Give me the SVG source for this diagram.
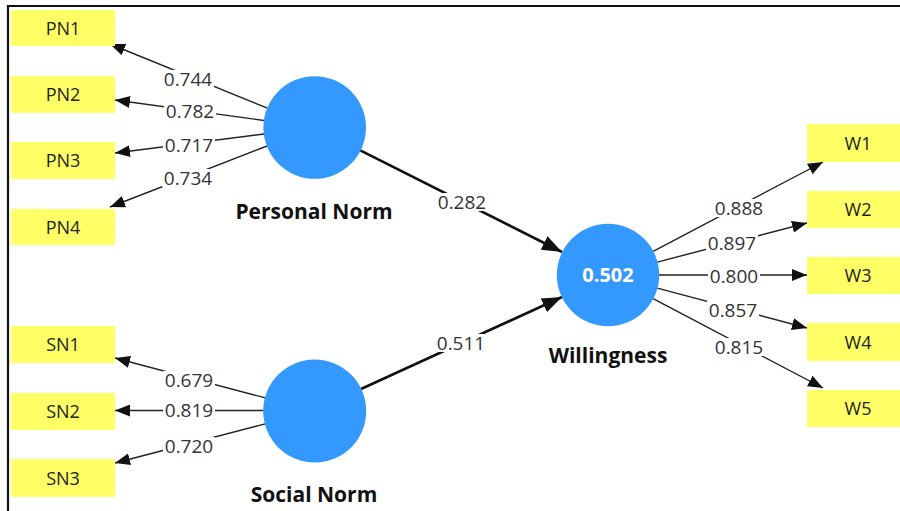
<svg xmlns="http://www.w3.org/2000/svg" width="900" height="511" viewBox="0 0 900 511">
<style>
.box{fill:#FFFF66;stroke:none}
.boxt{font-family:"Open Sans","Noto Sans",sans-serif;font-size:18px;fill:#222;text-anchor:middle}
.lv{fill:#3399FF;stroke:none}
.lvt{font-family:"Open Sans","Noto Sans",sans-serif;font-size:21px;font-weight:bold;fill:#111;text-anchor:middle}
.r2{font-family:"Open Sans","Noto Sans",sans-serif;font-size:20px;font-weight:bold;fill:#fff;text-anchor:middle}
.thin{stroke:#222;stroke-width:1.4;fill:none;marker-end:url(#ah)}
.thick{stroke:#111;stroke-width:2.6;fill:none;marker-end:url(#ahb)}
.lb{fill:#fff;stroke:none}
.lt{font-family:"Open Sans","Noto Sans",sans-serif;font-size:19px;fill:#333;text-anchor:middle}
</style>
<defs>
<marker id="ah" markerUnits="userSpaceOnUse" markerWidth="15" markerHeight="12" refX="15" refY="6" orient="auto"><path d="M0,0 L15,6 L0,12 z" fill="#111"/></marker>
<marker id="ahb" markerUnits="userSpaceOnUse" markerWidth="20" markerHeight="15" refX="20" refY="7.5" orient="auto"><path d="M0,0 L20,7.5 L0,15 z" fill="#111"/></marker>
</defs>
<rect x="0" y="0" width="900" height="511" fill="#fff"/>
<path d="M8,511 L8,6 L900,6" stroke="#111" stroke-width="2.2" fill="none"/>

<g id="connectors">
<line class="thin" x1="267.5" y1="108.2" x2="110" y2="44"/>
<line class="thin" x1="264.2" y1="120.5" x2="115" y2="100"/>
<line class="thin" x1="264.1" y1="134" x2="115" y2="153"/>
<line class="thin" x1="267.2" y1="146" x2="110" y2="207"/>
<line class="thin" x1="265.4" y1="397.9" x2="115" y2="358"/>
<line class="thin" x1="263.7" y1="410.5" x2="115" y2="410.5"/>
<line class="thin" x1="265.3" y1="423.9" x2="115" y2="463"/>
<line class="thin" x1="653.1" y1="251.3" x2="823" y2="162"/>
<line class="thin" x1="657.3" y1="262.1" x2="807" y2="223"/>
<line class="thin" x1="659" y1="275" x2="807" y2="275"/>
<line class="thin" x1="657.3" y1="288.1" x2="807" y2="328"/>
<line class="thin" x1="653.1" y1="298.7" x2="823" y2="388"/>
<line class="thick" x1="360.3" y1="150.4" x2="562" y2="252"/>
<line class="thick" x1="361" y1="389" x2="562" y2="297"/>

<rect class="lb" x="162" y="70" width="52" height="18"/><text class="lt" x="188" y="85.5">0.744</text>
<rect class="lb" x="164" y="102" width="52" height="18"/><text class="lt" x="190" y="117.5">0.782</text>
<rect class="lb" x="163" y="136" width="52" height="18"/><text class="lt" x="189" y="151.5">0.717</text>
<rect class="lb" x="162" y="169" width="52" height="18"/><text class="lt" x="188" y="184.5">0.734</text>
<rect class="lb" x="163" y="371" width="52" height="18"/><text class="lt" x="189" y="386.5">0.679</text>
<rect class="lb" x="163" y="401" width="52" height="18"/><text class="lt" x="189" y="416.5">0.819</text>
<rect class="lb" x="163" y="437" width="52" height="18"/><text class="lt" x="189" y="452.5">0.720</text>
<rect class="lb" x="713" y="199" width="52" height="18"/><text class="lt" x="739" y="214.5">0.888</text>
<rect class="lb" x="706" y="234" width="52" height="18"/><text class="lt" x="732" y="249.5">0.897</text>
<rect class="lb" x="708" y="267" width="52" height="18"/><text class="lt" x="734" y="282.5">0.800</text>
<rect class="lb" x="707" y="301" width="52" height="18"/><text class="lt" x="733" y="316.5">0.857</text>
<rect class="lb" x="713" y="338" width="52" height="18"/><text class="lt" x="739" y="353.5">0.815</text>
<rect class="lb" x="436" y="193" width="52" height="18"/><text class="lt" x="462" y="208.5">0.282</text>
<rect class="lb" x="435" y="334" width="52" height="18"/><text class="lt" x="461" y="349.5">0.511</text>
</g>

<g id="PN1"><rect class="box" x="11" y="10" width="104" height="36"/><text class="boxt" x="63" y="34.5">PN1</text></g>
<g id="PN2"><rect class="box" x="11" y="76" width="104" height="37"/><text class="boxt" x="63" y="101">PN2</text></g>
<g id="PN3"><rect class="box" x="11" y="142" width="104" height="37"/><text class="boxt" x="63" y="167">PN3</text></g>
<g id="PN4"><rect class="box" x="11" y="209" width="104" height="36"/><text class="boxt" x="63" y="233.5">PN4</text></g>
<g id="SN1"><rect class="box" x="11" y="326" width="104" height="37"/><text class="boxt" x="63" y="351">SN1</text></g>
<g id="SN2"><rect class="box" x="11" y="393" width="104" height="37"/><text class="boxt" x="63" y="418">SN2</text></g>
<g id="SN3"><rect class="box" x="11" y="459" width="104" height="38"/><text class="boxt" x="63" y="484.5">SN3</text></g>
<g id="W1"><rect class="box" x="807" y="124" width="104" height="38"/><text class="boxt" x="858" y="149.5">W1</text></g>
<g id="W2"><rect class="box" x="807" y="191" width="104" height="37"/><text class="boxt" x="858" y="216">W2</text></g>
<g id="W3"><rect class="box" x="807" y="257" width="104" height="37"/><text class="boxt" x="858" y="282">W3</text></g>
<g id="W4"><rect class="box" x="807" y="323" width="104" height="38"/><text class="boxt" x="858" y="348.5">W4</text></g>
<g id="W5"><rect class="box" x="807" y="390" width="104" height="37"/><text class="boxt" x="858" y="415">W5</text></g>

<g id="PersonalNorm"><circle class="lv" cx="314.7" cy="127.5" r="51.3"/><text class="lvt" x="314" y="219">Personal Norm</text></g>
<g id="SocialNorm"><circle class="lv" cx="314.7" cy="411" r="51.5"/><text class="lvt" x="314" y="502">Social Norm</text></g>
<g id="Willingness"><circle class="lv" cx="608" cy="275" r="51.2"/><text class="r2" x="608" y="282">0.502</text><text class="lvt" x="608" y="363">Willingness</text></g>
</svg>
